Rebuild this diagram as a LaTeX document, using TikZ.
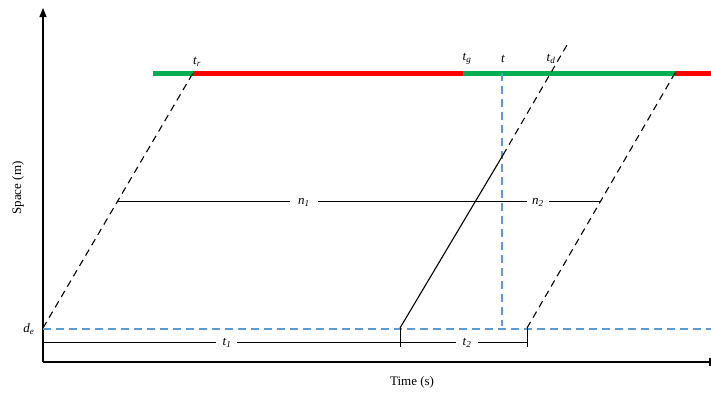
\documentclass[tikz,border=0pt]{standalone}
\usepackage{fontspec}
\setmainfont{Liberation Serif}
\usetikzlibrary{arrows.meta}
\definecolor{sgreen}{RGB}{0,176,80}
\definecolor{sred}{RGB}{255,0,0}
\definecolor{sblue}{RGB}{91,155,213}
\tikzset{
  axisline/.style={line width=1.2pt,black},
  trajdash/.style={line width=1.1pt,black,dash pattern=on 7pt off 5pt},
  trajsolid/.style={line width=1.1pt,black},
  bluedash/.style={line width=1.1pt,sblue,dash pattern=on 8pt off 5pt},
  dimline/.style={line width=1pt,black},
  lbl/.style={inner sep=1pt,font=\fontsize{13}{15}\selectfont},
  sig/.style={line width=5pt},
}
\begin{document}
\begin{tikzpicture}[x=1pt,y=-1pt]
\useasboundingbox (0,0) rectangle (711,394);
% coordinates
\coordinate (O) at (43,362);
\coordinate (Ytop) at (43,8);
\coordinate (Xend) at (710,362);
\coordinate (A1) at (43,328);
\coordinate (R) at (193,73);
\coordinate (B0) at (400,328);
\coordinate (Bm) at (503,155);
\coordinate (Bt) at (567,45);
\coordinate (C0) at (527,328);
\coordinate (G2) at (675,73);
\coordinate (S0) at (153,73);
\coordinate (G1) at (463,73);
\coordinate (S1) at (711,73);
\coordinate (Vt) at (502,73);
\coordinate (Vb) at (502,326);
\coordinate (Hl) at (43,329);
\coordinate (Hr) at (711,329);
% axes
\draw[axisline,-{Triangle[length=9pt,width=7pt]}] (O) -- (Ytop);
\draw[axisline] (O) -- (Xend);
\draw[axisline] (710,358) coordinate (Xt1) -- (710,366) coordinate (Xt2);
% signal bar
\draw[sig,sgreen] (S0) -- (R);
\draw[sig,sred] (R) -- (G1);
\draw[sig,sgreen] (G1) -- (G2);
\draw[sig,sred] (G2) -- (S1);
% blue lines
\draw[bluedash] (Vt) -- (Vb);
\draw[bluedash] (Hl) -- (Hr);
% trajectories
\draw[trajdash] (A1) -- (R);
\draw[trajsolid] (B0) -- (Bm);
\draw[trajdash] (Bm) -- (Bt);
\draw[trajdash] (C0) -- (G2);
% labels on bar
\node[lbl] (tr) at (197,62) {\textit{t}\textsubscript{\textit{r}}};
\node[lbl] (tg) at (467,59) {\textit{t}\textsubscript{\textit{g}}};
\node[lbl] (tt) at (503,59) {\textit{t}};
\node[lbl] (td) at (551,59) {\textit{t}\textsubscript{\textit{d}}};
\node[lbl] (de) at (29,329) {\textit{d}\textsubscript{\textit{e}}};
% n dimension
\coordinate (N0) at (118,201);
\coordinate (N1) at (601,201);
\node[lbl] (n1) at (304,202) {\textit{n}\textsubscript{\textit{1}}};
\node[lbl] (n2) at (538,202) {\textit{n}\textsubscript{\textit{2}}};
\draw[dimline] (N0) -- (290,201) coordinate (n1a);
\draw[dimline] (318,201) coordinate (n1b) -- (527,201) coordinate (n2a);
\draw[dimline] (549,201) coordinate (n2b) -- (N1);
% t dimension
\coordinate (T0) at (43,342);
\coordinate (T1) at (400,342);
\coordinate (T2) at (527,342);
\node[lbl] (t1) at (227,343) {\textit{t}\textsubscript{\textit{1}}};
\node[lbl] (t2) at (467,343) {\textit{t}\textsubscript{\textit{2}}};
\draw[dimline] (T0) -- (216,342);
\draw[dimline] (237,342) -- (T1);
\draw[dimline] (T1) -- (456,342);
\draw[dimline] (478,342) -- (T2);
\draw[dimline] (B0) -- (400,347) coordinate (Tk1);
\draw[dimline] (C0) -- (527,347) coordinate (Tk2);
% axis titles
\node[lbl,rotate=90] (ylab) at (18,188) {Space (m)};
\node[lbl] (xlab) at (412,382) {Time (s)};
\end{tikzpicture}
\end{document}
